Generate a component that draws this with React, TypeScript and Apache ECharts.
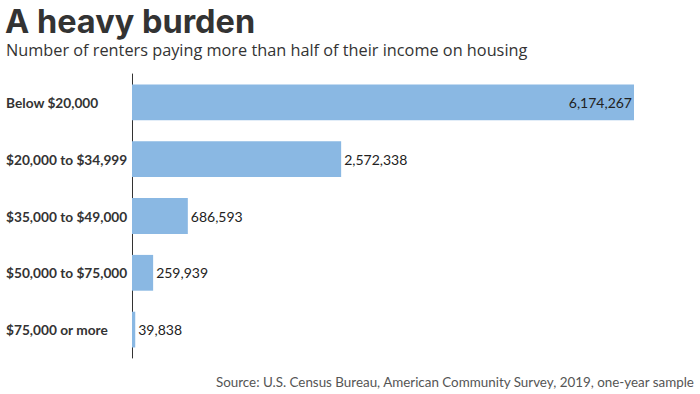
import React, { useEffect, useRef } from "react";
import * as echarts from "echarts";

const categories = [
  "Below $20,000",
  "$20,000 to $34,999",
  "$35,000 to $49,000",
  "$50,000 to $75,000",
  "$75,000 or more",
];
const values = [6174267, 2572338, 686593, 259939, 39838];

const title = "A heavy burden";
const subtitle = "Number of renters paying more than half of their income on housing";
const source = "Source: U.S. Census Bureau, American Community Survey, 2019, one-year sample";

export default function App() {
  const ref = useRef<HTMLDivElement>(null);
  useEffect(() => {
    if (!ref.current) return;
    const chart = echarts.init(ref.current, null, { renderer: "svg" });
    const fmt = (v: number) => v.toLocaleString("en-US");
    chart.setOption({
      animation: false,
      backgroundColor: "#ffffff",
      title: [
        {
          text: title,
          left: 0,
          top: 0,
          textStyle: { fontFamily: "Inter", fontWeight: "bold", fontSize: 32.5, color: "#333333" },
        },
        {
          text: subtitle,
          left: 1,
          top: 37,
          textStyle: { fontFamily: "Open Sans", fontWeight: "normal", fontSize: 16.3, color: "#333333" },
        },
        {
          text: source,
          right: 0,
          top: 370,
          textStyle: { fontFamily: "Lato", fontWeight: "normal", fontSize: 13.4, color: "#555555" },
        },
      ],
      grid: { left: 132, right: 66, top: 74, bottom: 36, containLabel: false },
      xAxis: {
        type: "value",
        min: 0,
        max: 6174267,
        show: false,
      },
      yAxis: {
        type: "category",
        data: categories,
        inverse: true,
        axisLine: { show: true, lineStyle: { color: "#333333", width: 1 } },
        axisTick: { show: false },
        axisLabel: {
          margin: 126,
          align: "left",
          fontFamily: "Lato",
          fontWeight: "bold",
          fontSize: 13.7,
          color: "#333333",
        },
      },
      series: [
        {
          type: "bar",
          data: values.map((v, i) => ({
            value: v,
            label:
              i === 0
                ? { show: true, position: "insideRight", distance: 2 }
                : { show: true, position: "right", distance: 3 },
          })),
          barCategoryGap: "37%",
          itemStyle: { color: "#8ab8e3" },
          label: {
            show: true,
            fontFamily: "Lato",
            fontSize: 14,
            color: "#222222",
            formatter: (p: any) => fmt(p.value),
          },
        },
      ],
    });
    return () => chart.dispose();
  }, []);
  return (
    <div
      ref={ref}
      style={{ position: "fixed", left: 0, top: 0, width: 700, height: 394 }}
    />
  );
}
